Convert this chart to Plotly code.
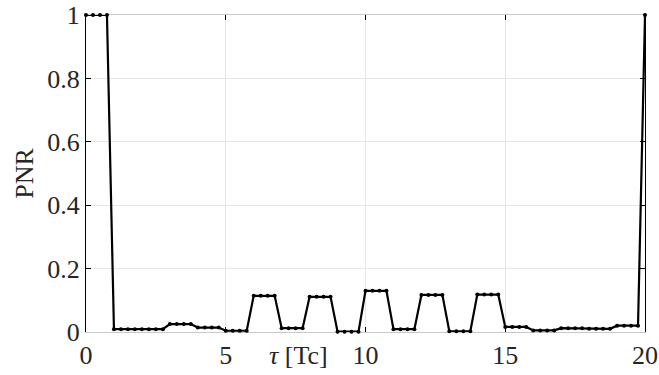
import plotly.graph_objects as go

# per-chip PNR levels (chip k covers tau = k .. k+0.75, sampled every 0.25 Tc)
chip_levels = [1.0, 0.009, 0.009, 0.025, 0.014, 0.004, 0.114, 0.012, 0.111, 0.001,
               0.130, 0.009, 0.117, 0.002, 0.118, 0.016, 0.005, 0.012, 0.010, 0.020]
end_value = 1.0
samples_per_chip = 4

tau = []
pnr = []
for k, v in enumerate(chip_levels):
    for s in range(samples_per_chip):
        tau.append(k + s / samples_per_chip)
        pnr.append(v)
tau.append(len(chip_levels))
pnr.append(end_value)

xticks = [0, 5, 10, 15, 20]
yticks = [0, 0.2, 0.4, 0.6, 0.8, 1]
ytick_text = ["0", "0.2", "0.4", "0.6", "0.8", "1"]

fig = go.Figure()
fig.add_trace(go.Scatter(
    x=tau, y=pnr, mode="lines+markers",
    line=dict(color="black", width=2.2),
    marker=dict(color="black", size=4),
    cliponaxis=False, showlegend=False,
))

font = dict(family="Liberation Serif", size=26, color="#262626")

fig.update_layout(
    width=659, height=375,
    margin=dict(l=86, r=14, t=15, b=43),
    paper_bgcolor="white", plot_bgcolor="white",
    font=font,
    xaxis=dict(range=[0, 20], tickvals=xticks, ticks="inside", ticklen=5,
               tickcolor="black", showline=True, linecolor="#c8c8c8", linewidth=1,
               mirror="ticks", showgrid=True, gridcolor="#e6e6e6", gridwidth=1,
               zeroline=False, tickfont=font, automargin=False,
               layer="below traces"),
    yaxis=dict(range=[0, 1], tickvals=yticks, ticktext=ytick_text, ticks="inside",
               ticklen=5, tickcolor="black", showline=True, linecolor="black",
               linewidth=1, mirror="ticks", showgrid=True, gridcolor="#e6e6e6",
               gridwidth=1, zeroline=False, tickfont=font, automargin=False,
               layer="below traces",
               title=dict(text="PNR", font=font, standoff=6)),
)

fig.add_annotation(
    text="<i>τ</i> [Tc]", x=7.6, xref="x", y=-0.075, yref="paper",
    showarrow=False, font=font, xanchor="center", yanchor="middle",
)

fig.write_html("out.html",
               config={"displayModeBar": False},
               post_script="document.body.style.margin='0';document.body.style.overflow='hidden';")
